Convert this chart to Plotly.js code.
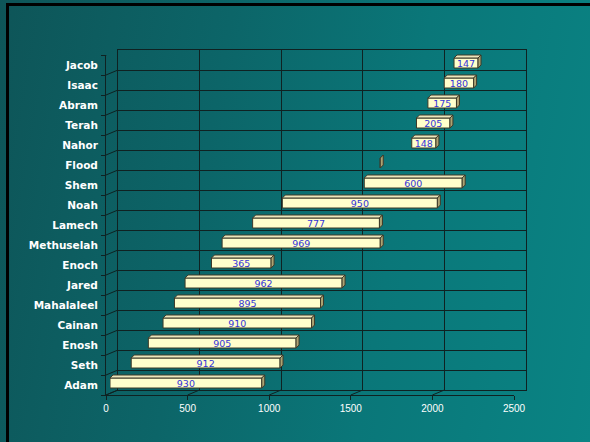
<!DOCTYPE html>
<html><head><meta charset="utf-8">
<script src="https://cdn.plot.ly/plotly-3.0.1.min.js"></script>
<style>
html,body{margin:0;padding:0;background:#0b6b6e;}
#wrap{position:relative;width:590px;height:442px;overflow:hidden;background:linear-gradient(100deg,#0e5558 0%,#0c6568 35%,#0a7779 65%,#0a8484 100%);}
#frame{position:absolute;left:6px;top:3px;width:600px;height:460px;border-top:3px solid #000;border-left:3px solid #000;pointer-events:none;}
#chart{position:absolute;left:0;top:0;width:590px;height:442px;}
</style></head><body>
<div id="wrap"><div id="chart"></div><div id="frame"></div></div>
<script>
const names = ['Adam','Seth','Enosh','Cainan','Mahalaleel','Jared','Enoch','Methuselah','Lamech','Noah','Shem','Flood','Nahor','Terah','Abram','Isaac','Jacob'];
const births = [0,130,235,325,395,460,622,687,874,1056,1558,1656,1849,1878,1948,2048,2108];
const spans = [930,912,905,910,895,962,365,969,777,950,600,0,148,205,175,180,147];
const xTicks = [0,500,1000,1500,2000,2500];

const lineCol = '#0f2222';
const W = 420, H = 345;          // total plot region in px
const frontW = 408, frontH = 340;
const xRange = [0, 2500];
const yRange = [-0.5, names.length - 0.5];
const pxPerUnit = frontW / (xRange[1] - xRange[0]);
const depthX = 3 / pxPerUnit, depthY = 3 / 20, half = 0.25;

const traces = [
  {type:'scatter', x:[0], y:[names[0]], mode:'none', xaxis:'x', yaxis:'y', hoverinfo:'skip', showlegend:false},
  {type:'bar', orientation:'h', y:names, x:spans, base:births, xaxis:'x2', yaxis:'y2',
   width:0.5, marker:{color:'#ffffcc', line:{color:'#3d3a28', width:1}},
   text:spans.map(v => v > 0 ? String(v) : ''), textposition:'inside', insidetextanchor:'middle',
   constraintext:'none', textangle:0,
   textfont:{family:'DejaVu Sans', size:9.5, color:'#3434d8'}, hoverinfo:'skip', showlegend:false},
  {type:'scatter', x:[0], y:[names[0]], mode:'none', xaxis:'x3', yaxis:'y3', hoverinfo:'skip', showlegend:false}
];

const shapes = [];
names.forEach((n, i) => {
  const s = births[i], e = births[i] + spans[i];
  // top face
  shapes.push({type:'path', xref:'x2', yref:'y2', layer:'above',
    path:`M${s},${i+half} L${s+depthX},${i+half+depthY} L${e+depthX},${i+half+depthY} L${e},${i+half} Z`,
    fillcolor:'#ece6bc', line:{color:'#3d3a28', width:1}});
  // side face
  shapes.push({type:'path', xref:'x2', yref:'y2', layer:'above',
    path:`M${e},${i-half} L${e+depthX},${i-half+depthY} L${e+depthX},${i+half+depthY} L${e},${i+half} Z`,
    fillcolor:'#aca373', line:{color:'#3d3a28', width:1}});
});
// depth lines from front axes to back wall
for (let k = -0.5; k <= names.length - 0.5; k += 1) {
  shapes.push({type:'line', xref:'x3', yref:'y3', xsizemode:'pixel', ysizemode:'pixel',
    xanchor:0, yanchor:k, x0:0, x1:12, y0:0, y1:5, line:{color:lineCol, width:1}});
}
xTicks.forEach(v => {
  shapes.push({type:'line', xref:'x3', yref:'y3 domain', xsizemode:'pixel', ysizemode:'pixel',
    xanchor:v, yanchor:0, x0:0, x1:12, y0:0, y1:5, line:{color:lineCol, width:1}});
});

const layout = {
  width:590, height:442,
  margin:{l:106, r:590-106-W, t:50, b:442-50-H, pad:0},
  paper_bgcolor:'rgba(0,0,0,0)', plot_bgcolor:'rgba(0,0,0,0)',
  showlegend:false, bargap:0.5,
  // back wall
  xaxis:{domain:[12/W, 1], range:xRange, tickvals:xTicks, showticklabels:false, ticks:'',
         showgrid:true, gridcolor:lineCol, gridwidth:1, zeroline:false,
         showline:true, mirror:true, linecolor:lineCol, linewidth:1, anchor:'y', fixedrange:true},
  yaxis:{domain:[5/H, 1], type:'category', categoryorder:'array', categoryarray:names, range:yRange,
         tickson:'boundaries', showticklabels:false, ticks:'', showgrid:true, gridcolor:lineCol, gridwidth:1,
         showline:true, mirror:true, linecolor:lineCol, linewidth:1, anchor:'x', fixedrange:true},
  // bars (mid depth)
  xaxis2:{domain:[4/W, (4+frontW)/W], range:xRange, visible:false, anchor:'y2', fixedrange:true},
  yaxis2:{domain:[2/H, (2+frontH)/H], type:'category', categoryorder:'array', categoryarray:names,
          range:yRange, visible:false, anchor:'x2', fixedrange:true},
  // front axes
  xaxis3:{domain:[0, frontW/W], range:xRange, tickvals:xTicks, ticks:'outside', ticklen:4, tickcolor:lineCol,
          showgrid:false, zeroline:false, showline:true, linecolor:lineCol, linewidth:1, anchor:'y3',
          ticklabelstandoff:0,
          tickfont:{family:'Liberation Sans', size:10, color:'#ffffff'}, fixedrange:true},
  yaxis3:{domain:[0, frontH/H], type:'category', categoryorder:'array', categoryarray:names, range:yRange,
          tickson:'boundaries', ticks:'outside', ticklen:4, tickcolor:lineCol, showgrid:false,
          showline:true, linecolor:lineCol, linewidth:1, anchor:'x3', ticklabelstandoff:5,
          tickfont:{family:'DejaVu Sans', size:10.5, color:'#ffffff', weight:'bold'}, fixedrange:true},
  shapes:shapes
};

Plotly.newPlot('chart', traces, layout, {displayModeBar:false, staticPlot:true});
</script>
</body></html>
